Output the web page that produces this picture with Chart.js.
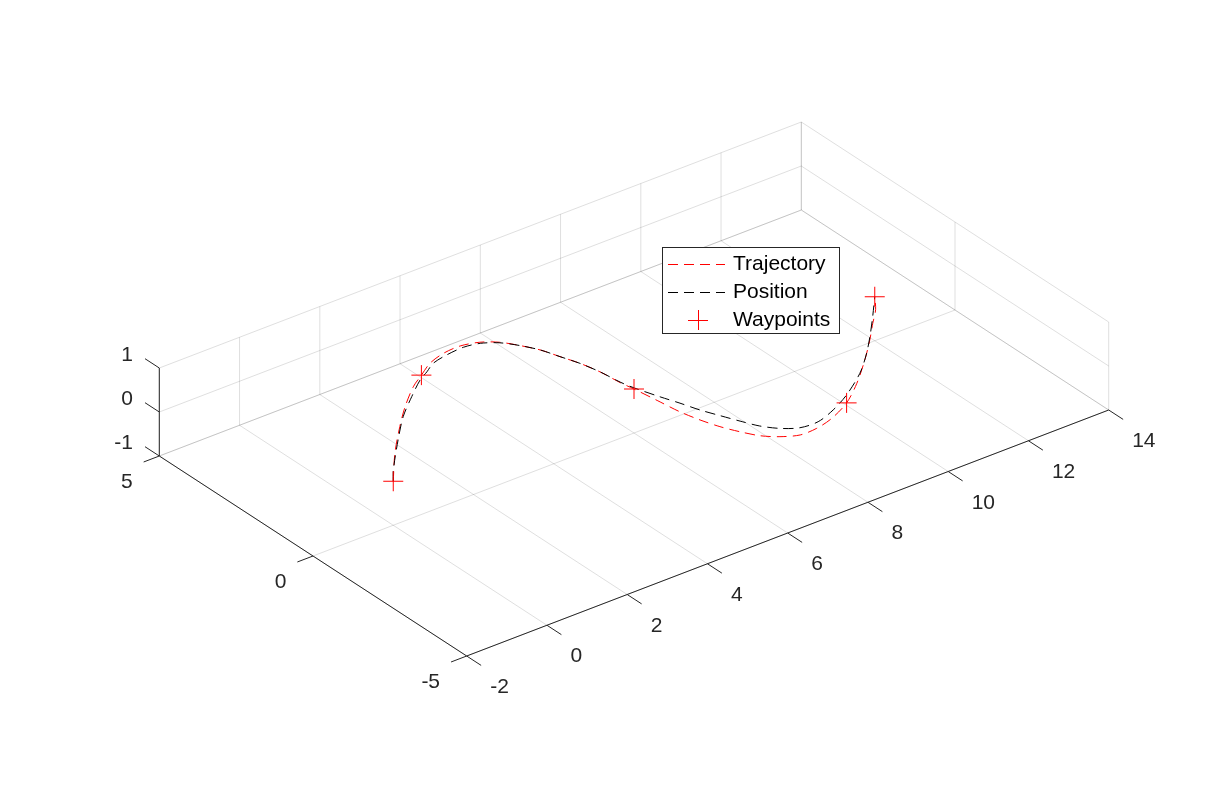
<!DOCTYPE html>
<html>
<head>
<meta charset="utf-8">
<script src="https://cdn.jsdelivr.net/npm/chart.js@4.4.1/dist/chart.umd.min.js"></script>
<style>
  html, body { margin: 0; padding: 0; background: #ffffff; }
  #wrap { width: 1225px; height: 807px; }
  canvas { display: block; }
</style>
</head>
<body>
<div id="wrap"><canvas id="c" width="1225" height="807"></canvas></div>
<script>
// ---------------- data ----------------
const xTicks = [-2, 0, 2, 4, 6, 8, 10, 12, 14];
const yTicks = [-5, 0, 5];
const zTicks = [-1, 0, 1];

const seriesNames = ['Trajectory', 'Position', 'Waypoints'];

const trajX = [0, 0.70, 1.42, 1.98, 2.59, 3.00, 3.42, 3.87, 4.31, 4.71, 5.02, 5.26, 5.47, 5.62, 5.77, 5.88, 5.94, 6.00, 6.09, 6.17, 6.29, 6.44, 6.63, 6.85, 7.14, 7.50, 7.92, 8.39, 9.00, 9.63, 10.32, 10.88, 11.33, 11.70, 12.00];
const trajY = [0, 0.86, 1.64, 2.20, 2.73, 3.00, 3.27, 3.42, 3.45, 3.33, 3.09, 2.74, 2.36, 1.91, 1.46, 0.95, 0.35, 0.00, -0.66, -1.27, -1.77, -2.22, -2.62, -2.99, -3.26, -3.45, -3.44, -3.31, -3.00, -2.51, -1.87, -1.30, -0.81, -0.42, 0.00];
const trajZ = [0, 0, 0, 0, 0, 0, 0, 0, 0, 0, 0, 0, 0, 0, 0, 0, 0, 0, 0, 0, 0, 0, 0, 0, 0, 0, 0, 0, 0, 0, 0, 0, 0, 0, 0];

const posX = [0, 0.27, 1.07, 1.71, 2.33, 2.86, 3.17, 3.47, 3.88, 4.33, 4.69, 5.01, 5.26, 5.47, 5.62, 5.77, 5.88, 5.95, 6.03, 6.22, 6.38, 6.53, 6.71, 6.89, 7.08, 7.34, 7.67, 8.10, 8.62, 9.19, 9.92, 10.46, 10.96, 11.48, 12.00];
const posY = [0, 0.35, 1.24, 1.91, 2.44, 2.86, 3.04, 3.23, 3.33, 3.37, 3.29, 3.07, 2.74, 2.36, 1.91, 1.46, 0.95, 0.38, 0.03, -0.56, -1.00, -1.46, -1.88, -2.29, -2.68, -3.00, -3.22, -3.25, -3.06, -2.75, -2.23, -1.73, -1.20, -0.61, 0.00];
const posZ = [0, 0, 0, 0, 0, 0, 0, 0, 0, 0, 0, 0, 0, 0, 0, 0, 0, 0, 0, 0, 0, 0, 0, 0, 0, 0, 0, 0, 0, 0, 0, 0, 0, 0, 0];

const wayX = [0, 3, 6, 9, 12];
const wayY = [0, 3, 0, -3, 0];
const wayZ = [0, 0, 0, 0, 0];

// ---------------- 3D view (orthographic projection, MATLAB default view) ----------------
const VIEW_ORIGIN = [466.7, 656];      // screen position of (xmin, ymin, zmin)
const VIEW_EX = [40.125, -15.375];     // screen step per x unit
const VIEW_EY = [-30.74, -20];         // screen step per y unit
const VIEW_EZ = [0, -44];              // screen step per z unit

const XMIN = xTicks[0], XMAX = xTicks[xTicks.length - 1];
const YMIN = yTicks[0], YMAX = yTicks[yTicks.length - 1];
const ZMIN = zTicks[0], ZMAX = zTicks[zTicks.length - 1];

function proj(x, y, z) {
  const a = x - XMIN, b = y - YMIN, c = z - ZMIN;
  return {
    x: VIEW_ORIGIN[0] + a * VIEW_EX[0] + b * VIEW_EY[0] + c * VIEW_EZ[0],
    y: VIEW_ORIGIN[1] + a * VIEW_EX[1] + b * VIEW_EY[1] + c * VIEW_EZ[1]
  };
}
function projSeries(xs, ys, zs) {
  return xs.map((v, i) => proj(v, ys[i], zs[i]));
}

const GRID = 'rgba(38,38,38,0.15)';
const AXIS = '#262626';
const FONT = '"Liberation Sans", Arial, Helvetica, sans-serif';

const datasets = [];
function seg(p, q, color, order) {
  datasets.push({
    data: [proj(p[0], p[1], p[2]), proj(q[0], q[1], q[2])],
    showLine: true, borderColor: color, borderWidth: 1, pointRadius: 0,
    fill: false, order: order
  });
}

// grid: floor (z = zmin)
xTicks.forEach(t => seg([t, YMIN, ZMIN], [t, YMAX, ZMIN], GRID, 20));
yTicks.forEach(t => seg([XMIN, t, ZMIN], [XMAX, t, ZMIN], GRID, 20));
// back wall (y = ymax)
xTicks.forEach(t => seg([t, YMAX, ZMIN], [t, YMAX, ZMAX], GRID, 20));
zTicks.forEach(t => seg([XMIN, YMAX, t], [XMAX, YMAX, t], GRID, 20));
// side wall (x = xmax)
yTicks.forEach(t => seg([XMAX, t, ZMIN], [XMAX, t, ZMAX], GRID, 20));
zTicks.forEach(t => seg([XMAX, YMIN, t], [XMAX, YMAX, t], GRID, 20));

// axis lines
seg([XMIN, YMIN, ZMIN], [XMAX, YMIN, ZMIN], AXIS, 10);
seg([XMIN, YMIN, ZMIN], [XMIN, YMAX, ZMIN], AXIS, 10);
seg([XMIN, YMAX, ZMIN], [XMIN, YMAX, ZMAX], AXIS, 10);
// tick marks
const TX = 0.47, TY = 0.39, TZ = 0.465;
xTicks.forEach(t => seg([t, YMIN, ZMIN], [t, YMIN - TX, ZMIN], AXIS, 10));
yTicks.forEach(t => seg([XMIN, t, ZMIN], [XMIN - TY, t, ZMIN], AXIS, 10));
zTicks.forEach(t => seg([XMIN, YMAX, t], [XMIN, YMAX + TZ, t], AXIS, 10));

// series
datasets.push({
  label: seriesNames[0], data: projSeries(trajX, trajY, trajZ),
  showLine: true, borderColor: '#ff0000', borderWidth: 1, borderDash: [10, 6],
  pointRadius: 0, tension: 0.3, fill: false, order: 3
});
datasets.push({
  label: seriesNames[1], data: projSeries(posX, posY, posZ),
  showLine: true, borderColor: '#000000', borderWidth: 1, borderDash: [10, 6],
  pointRadius: 0, tension: 0.3, fill: false, order: 2
});
datasets.push({
  label: seriesNames[2], data: projSeries(wayX, wayY, wayZ),
  showLine: false, borderColor: '#ff0000', backgroundColor: '#ff0000', borderWidth: 1,
  pointStyle: 'cross', pointRadius: 10, order: 1
});

// ---------------- labels + legend plugin ----------------
const labelPlugin = {
  id: 'labels3d',
  afterDatasetsDraw(chart) {
    const ctx = chart.ctx;
    const sx = chart.scales.x, sy = chart.scales.y;
    const px = p => ({ x: sx.getPixelForValue(p.x), y: sy.getPixelForValue(p.y) });
    ctx.save();
    ctx.fillStyle = AXIS;
    ctx.font = '21px ' + FONT;
    ctx.textBaseline = 'middle';
    // x tick labels
    ctx.textAlign = 'left';
    xTicks.forEach(t => {
      const p = px(proj(t, YMIN - TX, ZMIN));
      ctx.fillText(String(t), p.x + 9, p.y + 22);
    });
    // y tick labels
    ctx.textAlign = 'right';
    yTicks.forEach(t => {
      const p = px(proj(XMIN - TY, t, ZMIN));
      ctx.fillText(String(t), p.x - 11, p.y + 20);
    });
    // z tick labels
    zTicks.forEach(t => {
      const p = px(proj(XMIN, YMAX + TZ, t));
      ctx.fillText(String(t), p.x - 12, p.y - 3);
    });

    // legend box
    const L = 662.5, T = 247.5, W = 177, H = 86;
    ctx.fillStyle = '#ffffff';
    ctx.fillRect(L, T, W, H);
    ctx.strokeStyle = AXIS;
    ctx.lineWidth = 1;
    ctx.strokeRect(L, T, W, H);
    const rows = [264, 292, 320];
    const colors = ['#ff0000', '#000000', '#ff0000'];
    ctx.setLineDash([10, 6]);
    for (let i = 0; i < 2; i++) {
      ctx.strokeStyle = colors[i];
      ctx.beginPath();
      ctx.moveTo(668, rows[i] + 0.5);
      ctx.lineTo(725, rows[i] + 0.5);
      ctx.stroke();
    }
    ctx.setLineDash([]);
    ctx.strokeStyle = colors[2];
    ctx.beginPath();
    ctx.moveTo(688, rows[2] + 0.5); ctx.lineTo(708, rows[2] + 0.5);
    ctx.moveTo(698.5, rows[2] - 10); ctx.lineTo(698.5, rows[2] + 10);
    ctx.stroke();
    ctx.fillStyle = '#000000';
    ctx.textAlign = 'left';
    seriesNames.forEach((n, i) => ctx.fillText(n, 733, rows[i]));
    ctx.restore();
  }
};

new Chart(document.getElementById('c'), {
  type: 'scatter',
  data: { datasets: datasets },
  options: {
    responsive: false,
    animation: false,
    layout: { padding: 0, autoPadding: false },
    scales: {
      x: { type: 'linear', min: 0, max: 1225, display: false },
      y: { type: 'linear', min: 0, max: 807, reverse: true, display: false }
    },
    plugins: { legend: { display: false }, tooltip: { enabled: false } },
    elements: { point: { radius: 0 } }
  },
  plugins: [labelPlugin]
});
</script>
</body>
</html>
